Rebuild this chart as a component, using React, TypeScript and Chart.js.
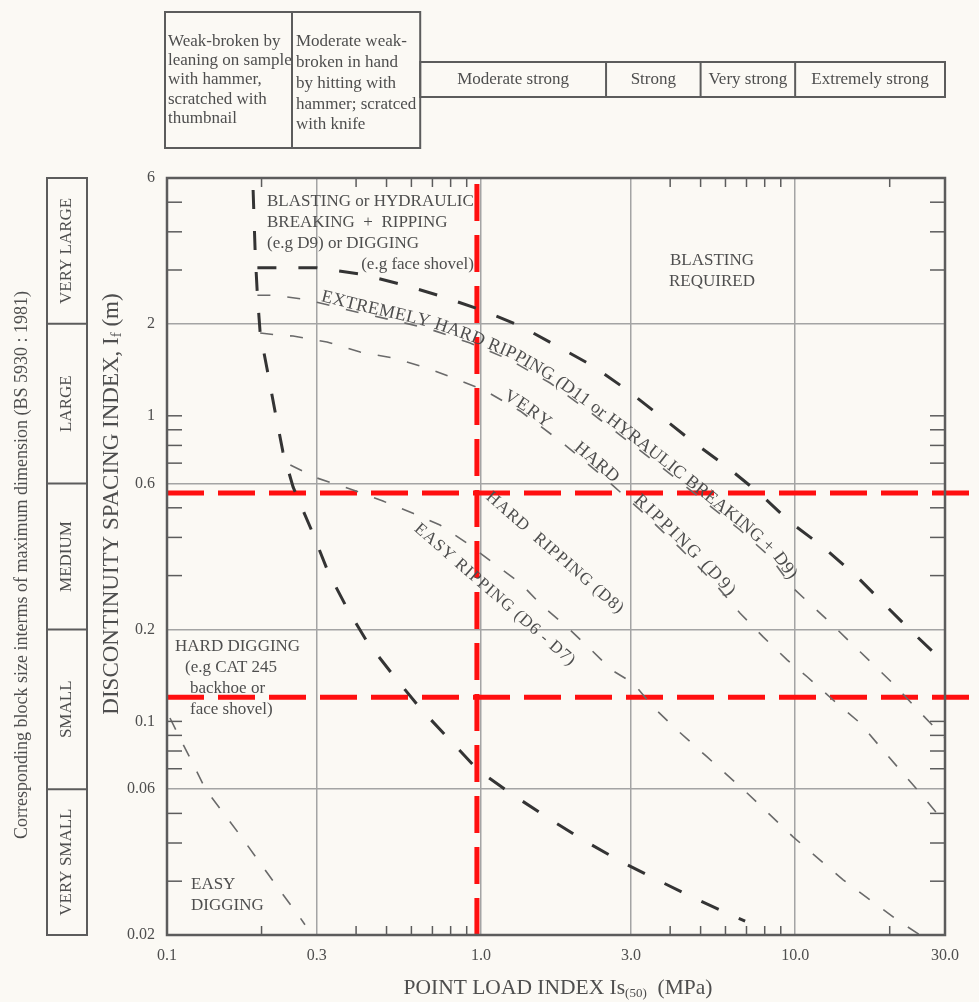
import React, { useEffect, useRef } from 'react';
import { Chart, registerables } from 'chart.js';

Chart.register(...registerables);

const W = 979;
const H = 1002;
const SERIF = '"Liberation Serif", "Times New Roman", Times, serif';
const BG = '#fbf9f4';
const INK = '#4e4e4e';
const GRID = '#a4a4a4';
const FRAME = '#5c5c5c';

// ---- axes ----
const X_GRID = [0.1, 0.3, 1, 3, 10, 30];
const X_LABELS = ['0.1', '0.3', '1.0', '3.0', '10.0', '30.0'];
const X_MINOR = [0.2, 0.4, 0.5, 0.6, 0.7, 0.8, 0.9, 4, 5, 6, 7, 8, 9, 20];
const Y_GRID = [0.02, 0.06, 0.2, 0.6, 2, 6];
const Y_LABEL_VALUES = [6, 2, 1, 0.6, 0.2, 0.1, 0.06, 0.02];
const Y_LABELS = ['6', '2', '1', '0.6', '0.2', '0.1', '0.06', '0.02'];
const Y_MINOR = [5, 4, 3, 1, 0.9, 0.8, 0.7, 0.5, 0.4, 0.3, 0.1, 0.09, 0.08, 0.07, 0.05, 0.04, 0.03];

// ---- strength classes (top) and block size classes (left) ----
const STRENGTH_BOUNDS = [0.1, 0.25, 0.64, 2.5, 5, 10, 30];
const STRENGTH_WEAK = ['Weak-broken by', 'leaning on sample', 'with hammer,', 'scratched with', 'thumbnail'];
const STRENGTH_MODWEAK = ['Moderate weak-', 'broken in hand', 'by hitting with', 'hammer; scratced', 'with knife'];
const STRENGTH_ROW = ['Moderate strong', 'Strong', 'Very strong', 'Extremely strong'];
const SIZE_BOUNDS = [6, 2, 0.6, 0.2, 0.06, 0.02];
const SIZE_LABELS = ['VERY LARGE', 'LARGE', 'MEDIUM', 'SMALL', 'VERY SMALL'];

// ---- boundary curves (Is50 MPa, If m) ----
// thick: ripping / digging boundary (with vertical part near 0.19 MPa)
const D_X = [0.188, 0.191, 0.194, 0.198, 0.208, 0.221, 0.234, 0.252, 0.29, 0.326, 0.374, 0.434, 0.524, 0.639, 0.768, 0.978, 1.265, 1.635, 2.113, 2.771, 3.636, 4.768, 6.346, 6.93];
const D_Y = [5.48, 3.36, 2.48, 1.866, 1.434, 1.029, 0.761, 0.585, 0.417, 0.308, 0.235, 0.182, 0.142, 0.1106, 0.0903, 0.0693, 0.0574, 0.0483, 0.0409, 0.0349, 0.0303, 0.0264, 0.0231, 0.0222];
// thick: blasting boundary
const A_X = [0.194, 0.224, 0.3, 0.412, 0.552, 0.74, 1.0, 1.331, 1.746, 2.274, 2.917, 3.716, 4.733, 6.073, 7.735, 9.64, 12.28, 15.76, 23.23, 30];
const A_Y = [3.05, 3.05, 3.05, 2.91, 2.7, 2.47, 2.22, 1.97, 1.69, 1.455, 1.214, 0.999, 0.821, 0.68, 0.555, 0.449, 0.372, 0.297, 0.199, 0.155];
// thin: extremely hard / very hard ripping
const B_X = [0.194, 0.22, 0.271, 0.307, 0.412, 0.552, 0.688, 0.923, 1.237, 1.659, 2.224, 2.771, 3.716, 4.983, 6.68, 8.325, 9.85, 12.65, 16.1, 20.5, 25.0, 30];
const B_Y = [2.48, 2.48, 2.41, 2.34, 2.17, 2.03, 1.92, 1.73, 1.523, 1.28, 1.029, 0.865, 0.685, 0.538, 0.423, 0.345, 0.273, 0.215, 0.169, 0.133, 0.107, 0.088];
// thin: very hard / hard ripping
const C_X = [0.198, 0.224, 0.252, 0.323, 0.412, 0.524, 0.673, 0.814, 1.022, 1.331, 1.785, 2.393, 3.209, 4.303, 5.563, 6.68, 7.91, 9.43, 10.92, 13.21, 16.1, 18.65, 21.6, 25.0, 30];
const C_Y = [1.866, 1.838, 1.824, 1.744, 1.617, 1.546, 1.434, 1.33, 1.214, 1.037, 0.827, 0.645, 0.492, 0.369, 0.2816, 0.226, 0.189, 0.159, 0.14, 0.1175, 0.0988, 0.0825, 0.0693, 0.0583, 0.0465];
// thin: hard / easy ripping
const E_X = [0.247, 0.3, 0.391, 0.487, 0.607, 0.74, 0.902, 1.092, 1.331, 1.564, 1.865, 2.176, 2.614, 3.05, 3.53, 4.21, 5.245, 7.03, 9.85, 14.22, 21.12, 25.0];
const E_Y = [0.69, 0.626, 0.572, 0.526, 0.48, 0.439, 0.383, 0.33, 0.284, 0.239, 0.205, 0.1765, 0.147, 0.1335, 0.1115, 0.0937, 0.0765, 0.0583, 0.0419, 0.0303, 0.0224, 0.02];
// thin: hard / easy digging
const F_X = [0.1022, 0.11, 0.1184, 0.1331, 0.153, 0.1733, 0.2, 0.2257, 0.2614, 0.275];
const F_Y = [0.1026, 0.088, 0.0759, 0.0596, 0.0494, 0.0416, 0.0339, 0.0285, 0.0233, 0.0216];
// red marker lines
const RED_V_X = [0.97, 0.97];
const RED_V_Y = [0.02, 6];
const RED_H1_X = [0.1, 37.4];
const RED_H1_Y = [0.559, 0.559];
const RED_H2_X = [0.1, 37.4];
const RED_H2_Y = [0.12, 0.12];

const zip = (xs: number[], ys: number[]) => xs.map((x, i) => ({ x, y: ys[i] }));

const THICK = { borderColor: '#343434', borderWidth: 3, borderDash: [19, 22] };
const THIN = { borderColor: '#6a6a6a', borderWidth: 1.6, borderDash: [13, 17] };
const RED = { borderColor: '#ff0f0f', borderWidth: 5, borderDash: [37, 14] };

function line(ctx: CanvasRenderingContext2D, x1: number, y1: number, x2: number, y2: number) {
  ctx.beginPath();
  ctx.moveTo(x1, y1);
  ctx.lineTo(x2, y2);
  ctx.stroke();
}

function text(ctx: CanvasRenderingContext2D, s: string, x: number, y: number, size: number, align: CanvasTextAlign = 'left', angle = 0, spacing = 0) {
  ctx.save();
  ctx.font = `${size}px ${SERIF}`;
  ctx.fillStyle = INK;
  ctx.textAlign = align;
  ctx.textBaseline = 'middle';
  try { (ctx as any).letterSpacing = `${spacing}px`; } catch (e) { /* ignore */ }
  ctx.translate(x, y);
  ctx.rotate(angle);
  ctx.fillText(s, 0, 0);
  ctx.restore();
}

function runs(ctx: CanvasRenderingContext2D, items: [string, number, number][], cx: number, cy: number, angle: number) {
  ctx.save();
  ctx.translate(cx, cy);
  ctx.rotate(angle);
  ctx.fillStyle = INK;
  ctx.textBaseline = 'middle';
  ctx.textAlign = 'left';
  let total = 0;
  const ws = items.map(([s, sz]) => {
    ctx.font = `${sz}px ${SERIF}`;
    const w = ctx.measureText(s).width;
    total += w;
    return w;
  });
  let x = -total / 2;
  items.forEach(([s, sz, dy], i) => {
    ctx.font = `${sz}px ${SERIF}`;
    ctx.fillText(s, x, dy);
    x += ws[i];
  });
  ctx.restore();
}

type P = { x: number; y: number };

function distAtX(pts: P[], px: number) {
  let d = 0;
  for (let i = 1; i < pts.length; i++) {
    const a = pts[i - 1], b = pts[i];
    const l = Math.hypot(b.x - a.x, b.y - a.y);
    if (b.x !== a.x && (px - a.x) * (px - b.x) <= 0) return d + (l * (px - a.x)) / (b.x - a.x);
    d += l;
  }
  return d;
}

function pointAt(pts: P[], dist: number): P {
  let d = dist;
  for (let i = 1; i < pts.length; i++) {
    const a = pts[i - 1], b = pts[i];
    const l = Math.hypot(b.x - a.x, b.y - a.y);
    if (d <= l || i === pts.length - 1) {
      const t = l ? Math.min(1, Math.max(0, d / l)) : 0;
      return { x: a.x + (b.x - a.x) * t, y: a.y + (b.y - a.y) * t };
    }
    d -= l;
  }
  return pts[pts.length - 1];
}

function pathText(ctx: CanvasRenderingContext2D, s: string, pts: P[], x0: number, x1: number, size: number, lift: number) {
  ctx.save();
  ctx.font = `${size}px ${SERIF}`;
  ctx.fillStyle = INK;
  ctx.textAlign = 'center';
  ctx.textBaseline = 'alphabetic';
  const chars = Array.from(s);
  const ws = chars.map((c) => ctx.measureText(c).width);
  const tw = ws.reduce((a, b) => a + b, 0);
  const d0 = distAtX(pts, x0);
  const d1 = distAtX(pts, x1);
  const gap = chars.length > 1 ? Math.max(0, d1 - d0 - tw) / (chars.length - 1) : 0;
  let d = d0;
  chars.forEach((c, i) => {
    const mid = d + ws[i] / 2;
    const p = pointAt(pts, mid);
    const a = pointAt(pts, mid - 6);
    const b = pointAt(pts, mid + 6);
    const ang = Math.atan2(b.y - a.y, b.x - a.x);
    ctx.save();
    ctx.translate(p.x, p.y);
    ctx.rotate(ang);
    ctx.fillText(c, 0, -lift);
    ctx.restore();
    d += ws[i] + gap;
  });
  ctx.restore();
}

const decor = {
  id: 'decor',
  beforeDraw(chart: any) {
    const ctx = chart.ctx;
    ctx.save();
    ctx.fillStyle = BG;
    ctx.fillRect(0, 0, chart.width, chart.height);
    ctx.restore();
  },
  afterDraw(chart: any) {
    const ctx: CanvasRenderingContext2D = chart.ctx;
    const xs = chart.scales.x;
    const ys = chart.scales.y;
    const { left, right, top, bottom } = chart.chartArea;
    const X = (v: number) => xs.getPixelForValue(v);
    const Y = (v: number) => ys.getPixelForValue(v);

    ctx.save();
    // frame
    ctx.strokeStyle = FRAME;
    ctx.lineWidth = 2.5;
    ctx.strokeRect(left, top, right - left, bottom - top);
    // minor inward ticks
    ctx.lineWidth = 1.5;
    Y_MINOR.forEach((v) => {
      const py = Y(v);
      line(ctx, left, py, left + 15, py);
      line(ctx, right - 15, py, right, py);
    });
    X_MINOR.forEach((v) => {
      const px = X(v);
      line(ctx, px, top, px, top + 9);
      line(ctx, px, bottom - 9, px, bottom);
    });
    ctx.restore();

    // tick labels
    Y_LABEL_VALUES.forEach((v, i) => text(ctx, Y_LABELS[i], left - 12, Y(v), 16, 'right'));
    X_GRID.forEach((v, i) => text(ctx, X_LABELS[i], X(v), bottom + 21, 16, 'center'));

    // axis titles
    runs(ctx, [['POINT LOAD INDEX Is', 21.5, 0], ['(50)', 13, 6], ['  (MPa)', 21.5, 0]], 558, 988, 0);
    runs(ctx, [['DISCONTINUITY SPACING INDEX, I', 23, 0], ['f', 15, 5], [' (m)', 23, 0]], 112, 504, -Math.PI / 2);
    text(ctx, 'Corresponding block size interms of maximum dimension (BS 5930 : 1981)', 22, 565, 18, 'center', -Math.PI / 2);

    // strength table (top)
    const sx = STRENGTH_BOUNDS.map(X);
    ctx.save();
    ctx.strokeStyle = FRAME;
    ctx.lineWidth = 2;
    ctx.strokeRect(sx[0] - 2, 12, sx[2] - sx[0] + 2, 136);
    line(ctx, sx[1], 12, sx[1], 148);
    ctx.strokeRect(sx[2], 62, sx[6] - sx[2], 35);
    [3, 4, 5].forEach((i) => line(ctx, sx[i], 62, sx[i], 97));
    ctx.restore();
    const weakY = [42, 61, 80, 100, 119];
    const modY = [42, 63, 84, 105, 125];
    STRENGTH_WEAK.forEach((s, i) => text(ctx, s, sx[0] + 1, weakY[i], 17));
    STRENGTH_MODWEAK.forEach((s, i) => text(ctx, s, sx[1] + 4, modY[i], 17));
    STRENGTH_ROW.forEach((s, i) => text(ctx, s, (sx[i + 2] + sx[i + 3]) / 2, 80, 17, 'center'));

    // block size boxes (left)
    const by = SIZE_BOUNDS.map(Y);
    ctx.save();
    ctx.strokeStyle = FRAME;
    ctx.lineWidth = 2;
    ctx.strokeRect(47, by[0], 40, by[5] - by[0]);
    [1, 2, 3, 4].forEach((i) => line(ctx, 47, by[i], 87, by[i]));
    ctx.restore();
    SIZE_LABELS.forEach((s, i) => text(ctx, s, 67, (by[i] + by[i + 1]) / 2, 17, 'center', -Math.PI / 2));

    // region annotations
    text(ctx, 'BLASTING or HYDRAULIC', 267, 202, 17);
    text(ctx, 'BREAKING  +  RIPPING', 267, 223, 17);
    text(ctx, '(e.g D9) or DIGGING', 267, 244, 17);
    text(ctx, '(e.g face shovel)', 474, 265, 17, 'right');
    text(ctx, 'BLASTING', 712, 261, 17, 'center');
    text(ctx, 'REQUIRED', 712, 282, 17, 'center');
    text(ctx, 'HARD DIGGING', 175, 647, 17);
    text(ctx, '(e.g CAT 245', 185, 668, 17);
    text(ctx, 'backhoe or', 190, 689, 17);
    text(ctx, 'face shovel)', 190, 710, 17);
    text(ctx, 'EASY', 191, 885, 17);
    text(ctx, 'DIGGING', 191, 906, 17);
    text(ctx, 'HARD  RIPPING (D8)', 555, 553, 17, 'center', (41 * Math.PI) / 180, 1);
    text(ctx, 'EASY RIPPING (D6 - D7)', 495, 595, 17, 'center', (41 * Math.PI) / 180, 1);

    // labels written along curves B and C
    const bPts = B_X.map((v, i) => ({ x: X(v), y: Y(B_Y[i]) }));
    const cPts = C_X.map((v, i) => ({ x: X(v), y: Y(C_Y[i]) }));
    pathText(ctx, 'EXTREMELY HARD RIPPING (D11 or HYRAULIC BREAKING + D9)', bPts, 320, 788, 18, 2);
    pathText(ctx, 'VERY', cPts, 502, 545, 18, 2);
    pathText(ctx, 'HARD', cPts, 572, 612, 18, 2);
    pathText(ctx, 'RIPPING (D9)', cPts, 632, 727, 18, 2);
  },
};

export default function App() {
  const ref = useRef<HTMLCanvasElement | null>(null);

  useEffect(() => {
    document.body.style.margin = '0';
    document.body.style.background = BG;
    const canvas = ref.current;
    if (!canvas) return;
    const common = { showLine: true, pointRadius: 0, pointHoverRadius: 0, fill: false, tension: 0 };
    const chart = new Chart(canvas, {
      type: 'scatter',
      data: {
        datasets: [
          { label: 'Ripping / digging limit', data: zip(D_X, D_Y), ...common, ...THICK },
          { label: 'Blasting limit', data: zip(A_X, A_Y), ...common, ...THICK },
          { label: 'Extremely hard / very hard ripping', data: zip(B_X, B_Y), ...common, ...THIN },
          { label: 'Very hard / hard ripping', data: zip(C_X, C_Y), ...common, ...THIN },
          { label: 'Hard / easy ripping', data: zip(E_X, E_Y), ...common, ...THIN },
          { label: 'Hard / easy digging', data: zip(F_X, F_Y), ...common, ...THIN },
          { label: 'Is50 marker', data: zip(RED_V_X, RED_V_Y), ...common, ...RED },
          { label: 'If marker 1', data: zip(RED_H1_X, RED_H1_Y), ...common, ...RED, clip: false },
          { label: 'If marker 2', data: zip(RED_H2_X, RED_H2_Y), ...common, ...RED, clip: false },
        ],
      } as any,
      options: {
        animation: false,
        responsive: false,
        devicePixelRatio: 1,
        events: [],
        layout: { padding: { left: 167, right: 34, top: 178, bottom: 67 } },
        plugins: { legend: { display: false }, tooltip: { enabled: false } },
        scales: {
          x: {
            type: 'logarithmic',
            min: 0.1,
            max: 30,
            bounds: 'data',
            afterBuildTicks: (ax: any) => { ax.ticks = X_GRID.map((v) => ({ value: v })); },
            ticks: { display: false },
            grid: { color: GRID, lineWidth: 1.5, drawTicks: false },
            border: { display: false },
          },
          y: {
            type: 'logarithmic',
            min: 0.02,
            max: 6,
            bounds: 'data',
            afterBuildTicks: (ax: any) => { ax.ticks = Y_GRID.map((v) => ({ value: v })); },
            ticks: { display: false },
            grid: { color: GRID, lineWidth: 1.5, drawTicks: false },
            border: { display: false },
          },
        },
      } as any,
      plugins: [decor],
    });
    return () => chart.destroy();
  }, []);

  return (
    <div style={{ position: 'absolute', left: 0, top: 0, width: W, height: H, background: BG }}>
      <canvas ref={ref} width={W} height={H} style={{ display: 'block', width: W, height: H }} />
    </div>
  );
}
